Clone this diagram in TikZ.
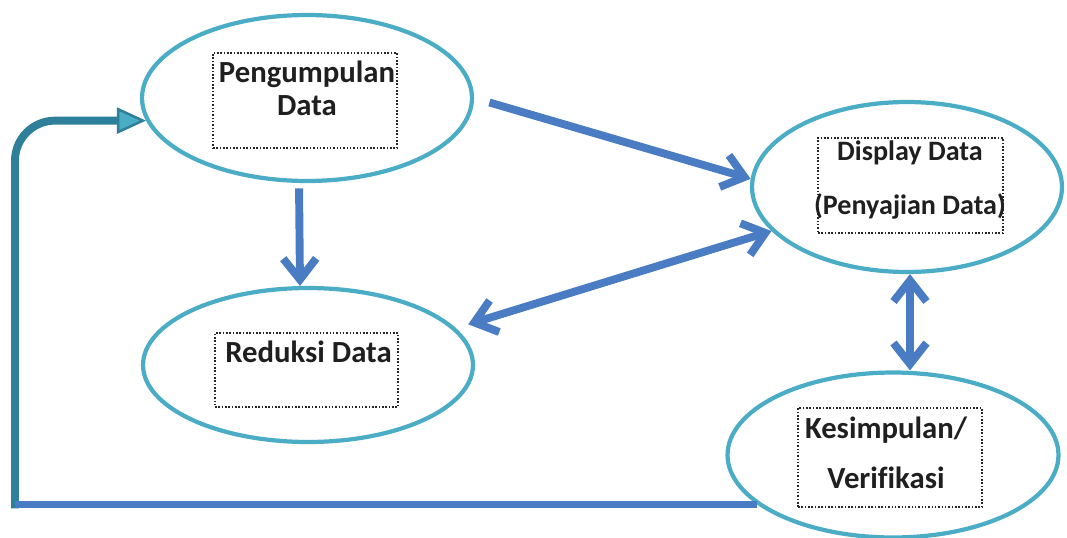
\documentclass[tikz,border=0pt]{standalone}
\usepackage{fontspec}
\setmainfont[Ligatures=NoCommon]{Carlito}
\usetikzlibrary{shapes.geometric,arrows.meta}
\definecolor{ovalteal}{HTML}{4BACC6}
\definecolor{flowblue}{HTML}{4A7CC3}
\definecolor{backteal}{HTML}{2E809A}

\begin{document}
\begin{tikzpicture}[x=0.02cm, y=-0.02cm,
  oval/.style={ellipse, draw=ovalteal, line width=2.4pt, inner sep=0pt},
  dotbox/.style={draw=black!85, densely dotted, line width=0.9pt, inner sep=0pt},
  lbl/.style={text=black!88, align=center, inner sep=0pt},
  barb/.tip={Straight Barb[length=0.42cm, width=0.66cm]},
  flow/.style={draw=flowblue, line width=4.5pt, -{barb}},
  flowboth/.style={draw=flowblue, line width=4.5pt, {barb}-{barb}}]
  \useasboundingbox (0,0) rectangle (1067,537);

  \node[oval, minimum width=6.6cm, minimum height=3.32cm] (pgd) at (307,98) {};
  \node[dotbox, minimum width=3.68cm, minimum height=1.9cm] (pgdbox) at (305,100.5) {};
  \node[lbl, font=\bfseries\fontsize{17.5}{18.7}\selectfont] (pgdtxt) at (307,88) {Pengumpulan\\Data};

  \node[oval, minimum width=6.2cm, minimum height=3.4cm] (dis) at (907,187) {};
  \node[dotbox, minimum width=3.7cm, minimum height=1.9cm] (disbox) at (910.5,185.5) {};
  \node[lbl, font=\bfseries\fontsize{16}{19}\selectfont] (distxt) at (910,180) {Display Data\\[12pt](Penyajian Data)};

  \node[oval, minimum width=6.6cm, minimum height=3.08cm] (red) at (308,365) {};
  \node[dotbox, minimum width=3.66cm, minimum height=1.48cm] (redbox) at (306.5,370) {};
  \node[lbl, font=\bfseries\fontsize{17.5}{19}\selectfont] (redtxt) at (308.5,352) {Reduksi Data};

  \node[oval, minimum width=6.62cm, minimum height=3.3cm] (kes) at (893,455) {};
  \node[dotbox, minimum width=3.68cm, minimum height=1.98cm] (kesbox) at (890,457.5) {};
  \node[lbl, font=\bfseries\fontsize{17.5}{19}\selectfont] (kestxt) at (886,453) {Kesimpulan/\\[9.4pt]Verifikasi};

  \draw[flow, shorten <=3pt] ([xshift=-0.16cm]pgd.south) -- ([xshift=-0.16cm]red.north);
  \draw[flow, shorten <=0.32cm] (pgd.east) -- (dis.177);
  \draw[flowboth, shorten <=0.26cm] (red.14) -- (dis.198);
  \draw[flowboth] ([xshift=0.06cm]dis.south) -- ([xshift=0.06cm]dis.south |- kes.north);

  % umpan balik
  \coordinate (fbx) at (15,0);
  \draw[backteal, line width=4.5pt, rounded corners=0.8cm,
    -{Triangle[length=0.58cm, width=0.52cm, line width=1.4pt, fill=ovalteal]}]
    ([yshift=-2.2pt]kes.200 -| fbx) |- (pgd.188);
  \draw[flowblue, line width=4pt] (kes.200) -- (kes.200 -| fbx);
\end{tikzpicture}
\end{document}
